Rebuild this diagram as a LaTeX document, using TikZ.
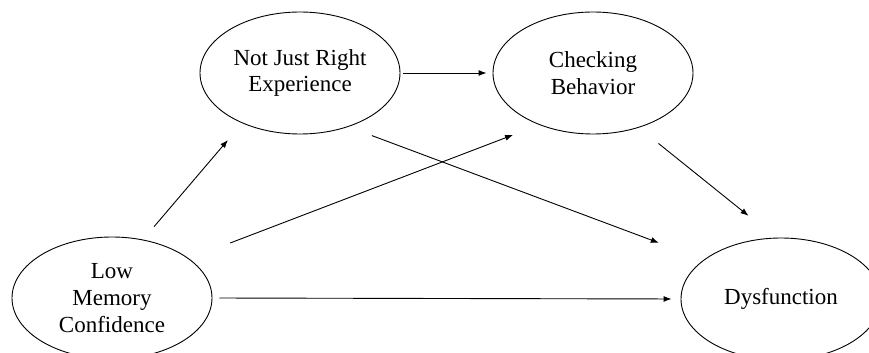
\documentclass[tikz,border=0pt]{standalone}
\usepackage{fontspec}
\setmainfont{Liberation Serif}
\usetikzlibrary{shapes.geometric,arrows.meta}

\begin{document}
\begin{tikzpicture}[x=0.5pt, y=-0.5pt, line width=0.45pt]

\tikzstyle{every node} = [ellipse, draw, inner sep=0pt, minimum width=100pt, minimum height=61pt, align=center, font=\fontsize{11.5}{13.4}\selectfont]
\tikzstyle{path} = [-{Latex[length=4pt, width=3pt]}]

\useasboundingbox (0,0) rectangle (869,353);

\node (nj) at (300,73) {Not Just Right\\Experience};
\node (cb) at (593,73) {Checking\\Behavior};
\node (lm) at (112,298) {Low\\Memory\\Confidence};
\node (dy) at (781,299) {Dysfunction};

\draw[path, shorten <=1.5pt, shorten >=3pt] (nj.east) -- (cb.west);
\draw[path, shorten <=8.5pt, shorten >=11pt] (lm.62) -- (nj.221.6);
\draw[path, shorten <=22pt, shorten >=14pt] (lm.27.4) -- (cb.224.7);
\draw[path, shorten <=12.5pt, shorten >=24pt] (nj.312.9) -- (dy.153.1);
\draw[path, shorten <=12.6pt, shorten >=17.4pt] (cb.310.7) -- (dy.95.7);
\draw[path, shorten <=3.5pt, shorten >=4.5pt] (lm.east) -- (dy.west);

\end{tikzpicture}
\end{document}
